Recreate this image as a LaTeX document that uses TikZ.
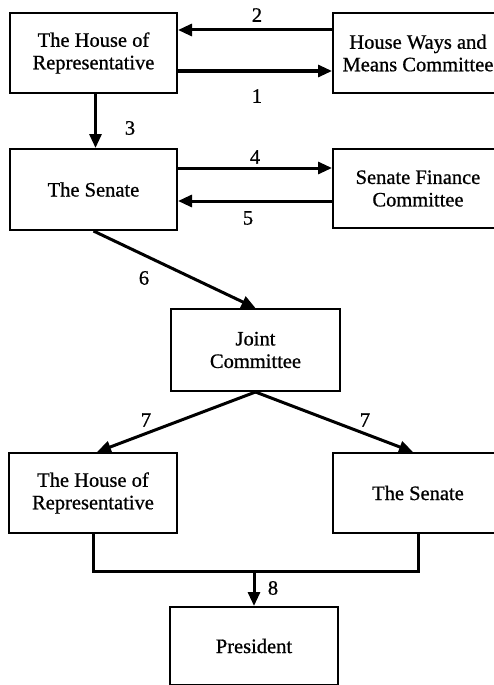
\documentclass[tikz,border=0pt]{standalone}
\usepackage{fontspec}
\setmainfont{Liberation Serif}[FakeBold=0.8]
\usetikzlibrary{arrows.meta}
\tikzset{
  box/.style={draw, line width=2pt, rectangle, align=center, inner sep=0pt},
  arr/.style={line width=3pt, -{Triangle[length=14pt,width=12pt]}},
  conn/.style={line width=3pt},
  num/.style={inner sep=0pt}
}
\begin{document}
\begin{tikzpicture}[x=1pt,y=-1pt,font=\fontsize{20.5}{22.5}\selectfont]
\useasboundingbox (0,0) rectangle (494,685);
\clip (0,0) rectangle (494,685);
\fill[white] (0,0) rectangle (494,685);
% boxes
\node[box, minimum width=167pt, minimum height=80pt] (hr1) at (93.5,53) {The House of\\Representative};
\node[box, minimum width=170pt, minimum height=80pt] (hw) at (418,53) {House Ways and\\Means Committee};
\node[box, minimum width=167pt, minimum height=81pt] (sen1) at (93.5,189.5) {The Senate};
\node[box, minimum width=170pt, minimum height=79pt] (sfc) at (418,188.5) {Senate Finance\\Committee};
\node[box, minimum width=169pt, minimum height=82pt] (joint) at (255.5,350) {Joint\\Committee};
\node[box, minimum width=168pt, minimum height=80pt] (hr2) at (93,493) {The House of\\Representative};
\node[box, minimum width=170pt, minimum height=80pt] (sen2) at (418,493) {The Senate};
\node[box, minimum width=168pt, minimum height=78pt] (pres) at (254,646) {President};
% connectors
\draw[arr] ([yshift=23pt]hw.west) -- ([yshift=23pt]hw.west -| hr1.east);
\draw[arr] ([yshift=-18pt]hr1.east) -- ([yshift=-18pt]hr1.east -| hw.west);
\draw[arr] ([xshift=2pt]hr1.south) -- ([xshift=2pt]sen1.north);
\draw[arr] ([yshift=21.5pt]sen1.east) -- ([yshift=21.5pt]sen1.east -| sfc.west);
\draw[arr] ([yshift=-11.5pt]sen1.east -| sfc.west) -- ([yshift=-11.5pt]sen1.east);
\draw[arr] (sen1.south) -- (joint.north);
\draw[arr] (joint.south) -- ([xshift=4pt]hr2.north);
\draw[arr] (joint.south) -- ([xshift=-5pt]sen2.north);
\path (hr2.south) ++(0,37) coordinate (bl);
\draw[conn] (hr2.south) -- (bl) -| (sen2.south);
\draw[arr] (bl -| pres.north) -- (pres.north);
% labels
\node[num] (l2) at (257,15) {2};
\node[num] (l1) at (257,96) {1};
\node[num] (l3) at (130,128) {3};
\node[num] (l4) at (255,157) {4};
\node[num] (l5) at (248,218) {5};
\node[num] (l6) at (144,278) {6};
\node[num] (l7a) at (146,420) {7};
\node[num] (l7b) at (365,420) {7};
\node[num] (l8) at (273,588) {8};
\end{tikzpicture}
\end{document}
